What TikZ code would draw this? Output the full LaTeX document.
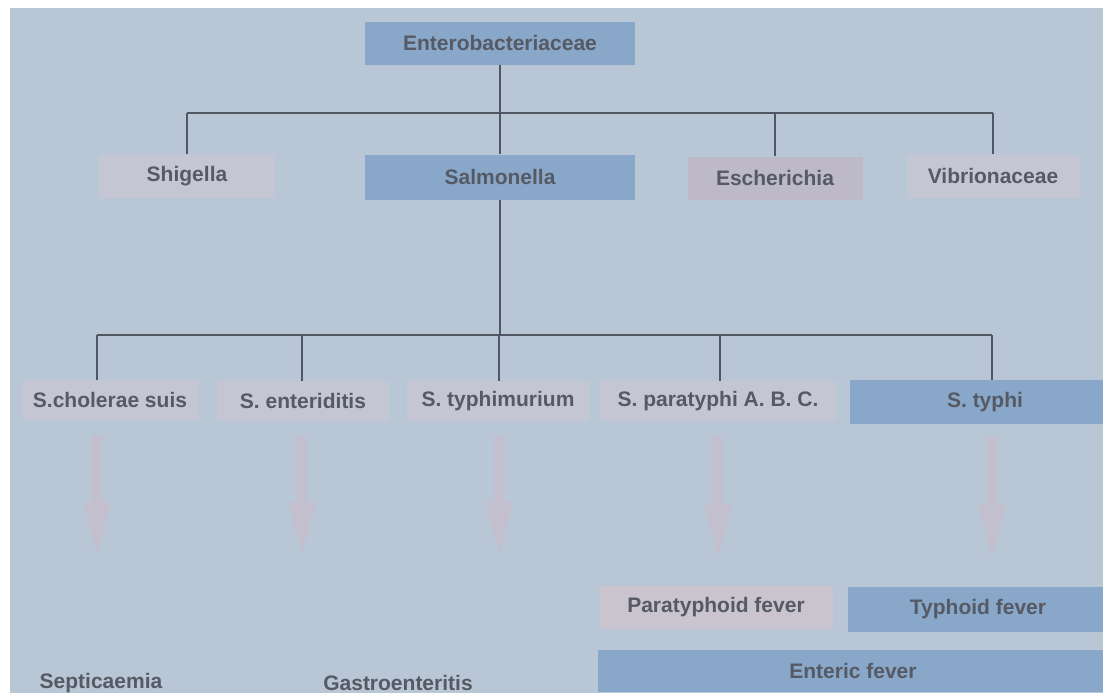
\documentclass[tikz,border=0pt]{standalone}
\usepackage{fontspec}
\setmainfont{Liberation Sans}
\usetikzlibrary{arrows.meta}
\definecolor{bgblue}{RGB}{184,198,213}
\definecolor{boxblue}{RGB}{136,167,201}
\definecolor{boxpale}{RGB}{196,199,211}
\definecolor{boxlilac}{RGB}{189,185,200}
\definecolor{boxpink}{RGB}{201,196,205}
\definecolor{txtgray}{RGB}{86,90,100}
\definecolor{linegray}{RGB}{80,86,98}
\definecolor{arrowpink}{RGB}{196,191,206}
\tikzset{
  taxon/.style={inner sep=0pt, minimum height=43pt, font=\bfseries\fontsize{21}{21}\selectfont, text=txtgray},
  bluebox/.style={taxon, fill=boxblue},
  palebox/.style={taxon, fill=boxpale},
  tree/.style={draw=linegray, line width=1.4pt},
  fade/.style={draw=arrowpink, line width=10pt, -{Triangle[length=56pt,width=24pt]}}
}
\begin{document}
\begin{tikzpicture}[x=1pt,y=-1pt]
\useasboundingbox (0,0) rectangle (1103,699);
\fill[white] (0,0) rectangle (1103,699);
\fill[bgblue] (10,8) rectangle (1103,693);
% family and genera
\node[bluebox, minimum width=270pt] (entero) at (500,43) {Enterobacteriaceae};
\node[palebox, minimum width=176pt] (shigella) at (187,176) {Shigella};
\node[bluebox, minimum width=270pt, minimum height=45pt] (salmonella) at (500,177) {Salmonella};
\node[taxon, fill=boxlilac, minimum width=175pt] (escherichia) at (775,178) {Escherichia};
\node[palebox, minimum width=173pt] (vibrio) at (993,176) {Vibrionaceae};
% species
\node[palebox, minimum width=176pt, minimum height=40pt] (cholerae) at (110,400) {S.cholerae suis};
\node[palebox, minimum width=172pt, minimum height=40pt] (enteriditis) at (303,401) {S. enteriditis};
\node[palebox, minimum width=182pt, minimum height=40pt] (typhimurium) at (498,401) {S. typhimurium};
\node[palebox, minimum width=236pt, minimum height=40pt] (paratyphi) at (718,401) {S. paratyphi A. B. C.};
\node[bluebox, minimum width=270pt, minimum height=44pt] (typhi) at (985,402) {S. typhi};
% diseases
\node[taxon, fill=boxpink, minimum width=233pt] (parafever) at (716,607) {Paratyphoid fever};
\node[bluebox, minimum width=260pt, minimum height=45pt] (typhfever) at (978,609) {Typhoid fever};
\node[bluebox, minimum width=510pt, minimum height=42pt] (enteric) at (853,671) {Enteric fever};
\node[taxon] (septic) at (101,683) {Septicaemia};
\node[taxon] (gastro) at (398,683) {Gastroenteritis};
% tree lines
\coordinate (busA) at (0,113);\coordinate (busB) at (0,335);
\draw[tree] (entero.south) -- (salmonella.north);\draw[tree] (busA -| shigella) -- (busA -| vibrio);
\draw[tree] (busA -| shigella) -- (shigella.north);\draw[tree] (busA -| escherichia) -- (escherichia.north);\draw[tree] (busA -| vibrio) -- (vibrio.north);
\coordinate (cholTop) at (97,435);\coordinate (cholEnd) at (97,558);
\coordinate (entTop) at (302,435);\coordinate (entEnd) at (302,558);
\coordinate (murTop) at (499,435);\coordinate (murEnd) at (499,558);
\coordinate (paraTop) at (718,435);\coordinate (paraEnd) at (718,560);
\coordinate (typTop) at (992,435);\coordinate (typEnd) at (992,560);
\coordinate (paraDrop) at (720,0);
\draw[tree] (salmonella.south) -- (busB -| salmonella);\draw[tree] (busB -| cholTop) -- (busB -| typTop);
\draw[tree] (busB -| cholTop) -- (cholTop |- cholerae.north);\draw[tree] (busB -| entTop) -- (entTop |- enteriditis.north);\draw[tree] (busB -| murTop) -- (murTop |- typhimurium.north);
\draw[tree] (busB -| paraDrop) -- (paraDrop |- paratyphi.north);\draw[tree] (busB -| typTop) -- (typTop |- typhi.north);
% faded arrows
\draw[fade] (cholTop) -- (cholEnd);\draw[fade] (entTop) -- (entEnd);\draw[fade] (murTop) -- (murEnd);
\draw[fade] (paraTop) -- (paraEnd);\draw[fade] (typTop) -- (typEnd);
\end{tikzpicture}
\end{document}
